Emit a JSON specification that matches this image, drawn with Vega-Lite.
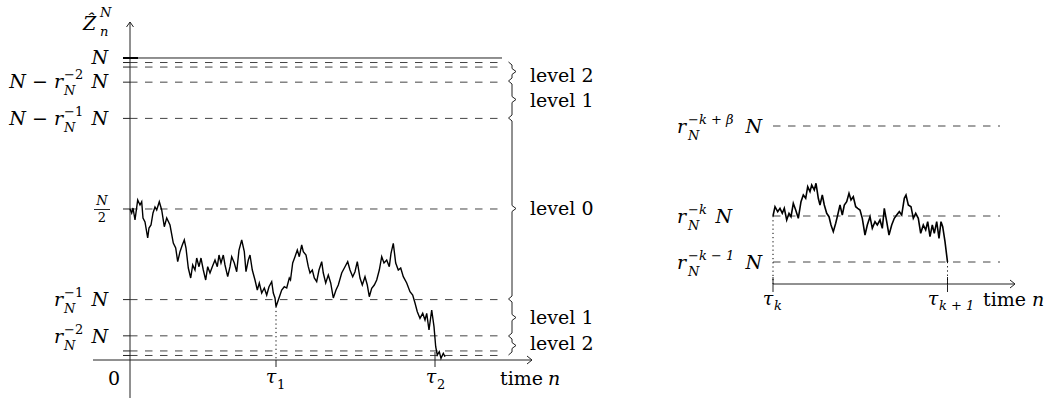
{
"$schema": "https://vega.github.io/schema/vega-lite/v6.json",
"width": 1052, "height": 401, "autosize": {"type": "none"}, "padding": 0,
"background": "white",
"config": {"view": {"stroke": null}},
"datasets": {
"lDash": [{"t":0,"tt":370,"v":1.5,"vv":1.5},{"t":0,"tt":370,"v":3,"vv":3},{"t":0,"tt":370,"v":8,"vv":8},{"t":0,"tt":370,"v":20,"vv":20},{"t":0,"tt":370,"v":50,"vv":50},{"t":0,"tt":370,"v":80,"vv":80},{"t":0,"tt":370,"v":92,"vv":92},{"t":0,"tt":370,"v":97,"vv":97},{"t":0,"tt":370,"v":98.5,"vv":98.5}],
"lSolid": [{"t":0,"tt":0,"v":-12.58,"vv":111.92},{"t":-37,"tt":402,"v":0,"vv":0},{"t":0,"tt":372,"v":100,"vv":100},
{"t":-7,"tt":0,"v":1.5,"vv":1.5},{"t":-7,"tt":0,"v":3,"vv":3},{"t":-7,"tt":0,"v":8,"vv":8},{"t":-7,"tt":0,"v":20,"vv":20},{"t":-7,"tt":0,"v":50,"vv":50},{"t":-7,"tt":0,"v":80,"vv":80},{"t":-7,"tt":0,"v":92,"vv":92},{"t":-7,"tt":0,"v":97,"vv":97},{"t":-7,"tt":0,"v":98.5,"vv":98.5},
{"t":146,"tt":146,"v":0,"vv":-2.32},{"t":305,"tt":305,"v":2.65,"vv":-2.32},{"t":-36,"tt":-20,"v":49.83,"vv":49.83}],
"lThick": [{"t":-7,"tt":8,"v":100,"vv":100}],
"lDot": [{"t":146,"tt":146,"v":17.65,"vv":0}],
"lLines": [{"id":"ya","i":0,"t":-3.5,"v":110.26},{"id":"ya","i":1,"t":0,"v":111.92},{"id":"ya","i":2,"t":3.5,"v":110.26},
{"id":"xa","i":0,"t":397,"v":1.32},{"id":"xa","i":1,"t":402,"v":0},{"id":"xa","i":2,"t":397,"v":-1.32},
{"id":"br","i":0,"t":378.5,"v":98.68},{"id":"br","i":1,"t":382,"v":97.68},{"id":"br","i":2,"t":382,"v":96.52},{"id":"br","i":3,"t":386,"v":95.53},{"id":"br","i":4,"t":382,"v":94.54},{"id":"br","i":5,"t":382,"v":93.38},{"id":"br","i":6,"t":378.5,"v":92.38},
{"id":"br","i":7,"t":382,"v":91.39},{"id":"br","i":8,"t":382,"v":87.25},{"id":"br","i":9,"t":386,"v":86.26},{"id":"br","i":10,"t":382,"v":85.26},{"id":"br","i":11,"t":382,"v":81.13},{"id":"br","i":12,"t":378.5,"v":80.13},
{"id":"br","i":13,"t":382,"v":79.14},{"id":"br","i":14,"t":382,"v":51.16},{"id":"br","i":15,"t":386,"v":50.17},{"id":"br","i":16,"t":382,"v":49.17},{"id":"br","i":17,"t":382,"v":21.19},{"id":"br","i":18,"t":378.5,"v":20.2},
{"id":"br","i":19,"t":382,"v":19.21},{"id":"br","i":20,"t":382,"v":15.07},{"id":"br","i":21,"t":386,"v":14.07},{"id":"br","i":22,"t":382,"v":13.08},{"id":"br","i":23,"t":382,"v":8.94},{"id":"br","i":24,"t":378.5,"v":7.95},
{"id":"br","i":25,"t":382,"v":6.95},{"id":"br","i":26,"t":382,"v":5.79},{"id":"br","i":27,"t":386,"v":4.8},{"id":"br","i":28,"t":382,"v":3.81},{"id":"br","i":29,"t":382,"v":2.65},{"id":"br","i":30,"t":378.5,"v":1.66}],
"lPath": [{"t":0,"v":50},{"t":1.7,"v":48.68},{"t":3,"v":50.33},{"t":5,"v":46.36},{"t":7.7,"v":52.98},{"t":10,"v":51.32},{"t":11.7,"v":52.42},{"t":13,"v":47.02},{"t":15,"v":45.7},{"t":17.7,"v":40.4},{"t":19,"v":43.71},{"t":21,"v":44.7},{"t":23,"v":48.68},{"t":25,"v":50.66},{"t":26.7,"v":49.67},{"t":29.3,"v":52.42},{"t":31.7,"v":49.67},{"t":34.3,"v":44.14},{"t":36.7,"v":47.02},{"t":40,"v":44.7},{"t":43.3,"v":38.74},{"t":45.7,"v":37.09},{"t":47.7,"v":32.55},{"t":50,"v":35.86},{"t":52.3,"v":38.08},{"t":54.3,"v":39.74},{"t":56,"v":37.09},{"t":58.3,"v":30.46},{"t":60.7,"v":27.15},{"t":62.7,"v":31.46},{"t":65,"v":29.8},{"t":66.7,"v":33.77},{"t":69,"v":30.89},{"t":71,"v":33.77},{"t":73.3,"v":29.8},{"t":75.7,"v":26.49},{"t":77.7,"v":30.89},{"t":80,"v":28.81},{"t":82.3,"v":30.89},{"t":85,"v":33.11},{"t":87.3,"v":30.89},{"t":89,"v":34.77},{"t":91,"v":32.12},{"t":93.3,"v":34.77},{"t":95,"v":31.46},{"t":97.7,"v":27.58},{"t":100,"v":30.89},{"t":101.7,"v":34.21},{"t":104.3,"v":32.12},{"t":106.7,"v":29.24},{"t":109,"v":36.42},{"t":111.7,"v":39.74},{"t":114.3,"v":35.86},{"t":116,"v":29.24},{"t":118.3,"v":33.11},{"t":120,"v":34.77},{"t":122.3,"v":29.8},{"t":125,"v":26.49},{"t":127.3,"v":23.18},{"t":129.3,"v":25.5},{"t":131.7,"v":22.19},{"t":134.3,"v":23.84},{"t":136.7,"v":21.52},{"t":139,"v":24.27},{"t":141.7,"v":25.93},{"t":143.3,"v":22.19},{"t":145,"v":20.53},{"t":146,"v":17.65},{"t":149,"v":20.53},{"t":151.7,"v":23.18},{"t":154.3,"v":24.27},{"t":156.7,"v":23.84},{"t":159.3,"v":27.15},{"t":160.5,"v":26.49},{"t":162.7,"v":32.12},{"t":165,"v":34.21},{"t":167.3,"v":36.42},{"t":169.3,"v":34.21},{"t":171.7,"v":38.08},{"t":173.3,"v":35.86},{"t":176,"v":34.77},{"t":178.3,"v":30.89},{"t":180,"v":28.81},{"t":182.3,"v":29.8},{"t":184.3,"v":27.15},{"t":186.7,"v":25.93},{"t":189,"v":29.8},{"t":191.7,"v":32.55},{"t":193.3,"v":28.81},{"t":195.7,"v":25.5},{"t":198.3,"v":28.15},{"t":200.7,"v":25.5},{"t":203.3,"v":20.53},{"t":206,"v":23.18},{"t":208.3,"v":24.83},{"t":211.7,"v":28.81},{"t":215,"v":30.89},{"t":217.7,"v":32.55},{"t":220,"v":29.8},{"t":222.7,"v":27.58},{"t":225,"v":29.24},{"t":227.3,"v":32.55},{"t":230,"v":27.15},{"t":232.3,"v":24.83},{"t":235,"v":27.58},{"t":237.3,"v":24.83},{"t":239.3,"v":20.96},{"t":241.7,"v":23.74},{"t":244.3,"v":24.83},{"t":246.7,"v":26.49},{"t":249.3,"v":29.8},{"t":251.7,"v":34.21},{"t":254,"v":32.12},{"t":256.7,"v":33.11},{"t":259.3,"v":30.89},{"t":261,"v":35.33},{"t":263.3,"v":38.64},{"t":265.7,"v":32.12},{"t":268.3,"v":29.8},{"t":270.7,"v":30.46},{"t":273.3,"v":27.58},{"t":276.7,"v":25.5},{"t":280,"v":22.62},{"t":282.7,"v":21.52},{"t":285,"v":18.87},{"t":287.3,"v":15.99},{"t":290,"v":13.81},{"t":292.7,"v":15.46},{"t":295,"v":13.25},{"t":296.7,"v":15.46},{"t":299,"v":9.93},{"t":301.7,"v":16.56},{"t":304,"v":11.03},{"t":305.7,"v":4.4},{"t":307.3,"v":1.66},{"t":309.3,"v":2.75},{"t":311,"v":0.56},{"t":313.3,"v":2.22},{"t":315,"v":1.09}],
"lIR": [{"t":-22,"v":100,"s":"N"},{"t":-67,"v":92.05,"s":"N − r"},{"t":-22,"v":92.05,"s":"N"},{"t":-67,"v":79.8,"s":"N − r"},{"t":-22,"v":79.8,"s":"N"},{"t":-67,"v":19.87,"s":"r"},{"t":-22,"v":19.87,"s":"N"},{"t":-67,"v":7.62,"s":"r"},{"t":-22,"v":7.62,"s":"N"}],
"lIL": [{"t":-47,"v":111.2,"s":"Ẑ"},{"t":418,"v":-6.29,"s":"n"}],
"lIC": [{"t":141,"v":-5.79,"s":"τ"},{"t":301,"v":-5.79,"s":"τ"}],
"lRL": [{"t":400,"v":94.04,"s":"level 2"},{"t":400,"v":85.76,"s":"level 1"},{"t":400,"v":50,"s":"level 0"},{"t":400,"v":13.91,"s":"level 1"},{"t":400,"v":5.3,"s":"level 2"},{"t":370,"v":-6.29,"s":"time"}],
"lRC": [{"t":-16,"v":-6.29,"s":"0"}],
"lSIL": [{"t":-66,"v":89.07,"s":"N"},{"t":-66,"v":76.82,"s":"N"},{"t":-66,"v":16.89,"s":"N"},{"t":-66,"v":4.64,"s":"N"},{"t":-30,"v":114.9,"s":"N"},{"t":-30,"v":108.6,"s":"n"}],
"lSRL": [{"t":-66,"v":94.37,"s":"−2"},{"t":-66,"v":82.12,"s":"−1"},{"t":-66,"v":22.19,"s":"−1"},{"t":-66,"v":9.93,"s":"−2"},{"t":147,"v":-8.28,"s":"1"},{"t":307,"v":-8.28,"s":"2"}],
"lSIC": [{"t":-28,"v":52.65,"s":"N"}],
"lSRC": [{"t":-28,"v":47.02,"s":"2"}],
"rDash": [{"t":0,"tt":227,"v":88,"vv":88},{"t":0,"tt":227,"v":43,"vv":43},{"t":0,"tt":227,"v":20,"vv":20}],
"rSolid": [{"t":0,"tt":242,"v":9,"vv":9},{"t":0,"tt":0,"v":12.5,"vv":5},{"t":174.5,"tt":174.5,"v":12.5,"vv":5}],
"rDot": [{"t":0,"tt":0,"v":43,"vv":9},{"t":174.5,"tt":174.5,"v":20,"vv":9}],
"rLines": [{"id":"xa","i":0,"t":237,"v":11},{"id":"xa","i":1,"t":242,"v":9},{"id":"xa","i":2,"t":237,"v":7}],
"rPath": [{"t":0,"v":43},{"t":2,"v":47.65},{"t":4.7,"v":45.15},{"t":7,"v":46.85},{"t":9.3,"v":44.35},{"t":11.3,"v":46.85},{"t":13.7,"v":41},{"t":16,"v":44.35},{"t":18,"v":42.65},{"t":20.3,"v":49.35},{"t":22.7,"v":46},{"t":25.3,"v":41.85},{"t":28,"v":50.15},{"t":30.3,"v":53.5},{"t":32.7,"v":51.85},{"t":34.7,"v":57.65},{"t":37,"v":55.15},{"t":38.7,"v":58.5},{"t":41.3,"v":56},{"t":43,"v":59.35},{"t":45.3,"v":51.85},{"t":47,"v":48.5},{"t":49.3,"v":53.5},{"t":51.3,"v":48.5},{"t":53.7,"v":44.35},{"t":56,"v":42.65},{"t":58,"v":38.5},{"t":60.3,"v":35.15},{"t":62.7,"v":39.35},{"t":64.7,"v":43.5},{"t":67,"v":48.5},{"t":69.3,"v":43.5},{"t":71.3,"v":48.5},{"t":73.7,"v":50.15},{"t":76,"v":54.35},{"t":78,"v":51},{"t":80.3,"v":52.65},{"t":82.7,"v":47.65},{"t":84.7,"v":46.85},{"t":87,"v":46},{"t":89.3,"v":41.85},{"t":92,"v":33.5},{"t":94.3,"v":38.5},{"t":97,"v":42.65},{"t":99.3,"v":36.85},{"t":102,"v":40.15},{"t":104.3,"v":38.5},{"t":107,"v":41},{"t":109.3,"v":36.85},{"t":111.3,"v":46.85},{"t":113.7,"v":40.15},{"t":116,"v":33.5},{"t":118.7,"v":38.5},{"t":121.3,"v":41.85},{"t":123.7,"v":43.5},{"t":126.3,"v":45.15},{"t":128.7,"v":43.5},{"t":131.3,"v":51.85},{"t":133,"v":53.5},{"t":135.3,"v":48.5},{"t":138,"v":47.65},{"t":140.3,"v":41.85},{"t":142.7,"v":44.35},{"t":145.3,"v":41.85},{"t":147.7,"v":34.35},{"t":150.3,"v":38.5},{"t":152.7,"v":36},{"t":154.7,"v":40.15},{"t":157,"v":32.65},{"t":159.3,"v":38.5},{"t":161.3,"v":34.35},{"t":163.7,"v":40.15},{"t":166,"v":31.85},{"t":168,"v":40.15},{"t":169.7,"v":37.65},{"t":172,"v":30.15},{"t":174.5,"v":20}],
"rIR": [{"t":-87,"v":87.5,"s":"r"},{"t":-87,"v":42.5,"s":"r"},{"t":-87,"v":19.5,"s":"r"},{"t":-11,"v":87.5,"s":"N"},{"t":-41,"v":42.5,"s":"N"},{"t":-11,"v":19.5,"s":"N"}],
"rIL": [{"t":259,"v":1,"s":"n"}],
"rIC": [{"t":-5,"v":1.75,"s":"τ"},{"t":160,"v":1.75,"s":"τ"}],
"rRL": [{"t":210,"v":1,"s":"time"}],
"rSIL": [{"t":-85,"v":91,"s":"−k + β"},{"t":-85,"v":83,"s":"N"},{"t":-85,"v":46,"s":"−k"},{"t":-85,"v":38,"s":"N"},{"t":-85,"v":23,"s":"−k − 1"},{"t":-85,"v":15,"s":"N"},{"t":1,"v":-2,"s":"k"},{"t":166,"v":-2,"s":"k + 1"}]
},
"resolve": {"scale": {"x": "independent", "y": "independent"}},
"layer": [
{
"encoding": {
"x": {"field": "t", "type": "quantitative", "scale": {"domain": [-130, 922], "nice": false, "zero": false}, "axis": null},
"y": {"field": "v", "type": "quantitative", "scale": {"domain": [-13.576, 119.205], "nice": false, "zero": false}, "axis": null}
},
"layer": [
{"data": {"name": "lDash"}, "mark": {"type": "rule", "color": "#444", "strokeWidth": 1, "strokeDash": [7.5, 7.5]}, "encoding": {"x2": {"field": "tt"}, "y2": {"field": "vv"}}},
{"data": {"name": "lSolid"}, "mark": {"type": "rule", "color": "#222", "strokeWidth": 1}, "encoding": {"x2": {"field": "tt"}, "y2": {"field": "vv"}}},
{"data": {"name": "lThick"}, "mark": {"type": "rule", "color": "black", "strokeWidth": 2}, "encoding": {"x2": {"field": "tt"}, "y2": {"field": "vv"}}},
{"data": {"name": "lDot"}, "mark": {"type": "rule", "color": "black", "strokeWidth": 1, "strokeDash": [1.2, 3]}, "encoding": {"x2": {"field": "tt"}, "y2": {"field": "vv"}}},
{"data": {"name": "lLines"}, "mark": {"type": "line", "color": "#222", "strokeWidth": 1}, "encoding": {"detail": {"field": "id"}, "order": {"field": "i", "type": "quantitative"}}},
{"data": {"name": "lPath"}, "mark": {"type": "line", "color": "black", "strokeWidth": 1.4}, "encoding": {}},
{"data": {"name": "lIR"}, "mark": {"type": "text", "font": "DejaVu Serif", "fontStyle": "italic", "fontSize": 19, "align": "right", "baseline": "middle", "color": "black"}, "encoding": {"text": {"field": "s"}}},
{"data": {"name": "lIL"}, "mark": {"type": "text", "font": "DejaVu Serif", "fontStyle": "italic", "fontSize": 19, "align": "left", "baseline": "middle", "color": "black"}, "encoding": {"text": {"field": "s"}}},
{"data": {"name": "lIC"}, "mark": {"type": "text", "font": "DejaVu Serif", "fontStyle": "italic", "fontSize": 19, "align": "center", "baseline": "middle", "color": "black"}, "encoding": {"text": {"field": "s"}}},
{"data": {"name": "lRL"}, "mark": {"type": "text", "font": "DejaVu Serif", "fontSize": 19, "align": "left", "baseline": "middle", "color": "black"}, "encoding": {"text": {"field": "s"}}},
{"data": {"name": "lRC"}, "mark": {"type": "text", "font": "DejaVu Serif", "fontSize": 19, "align": "center", "baseline": "middle", "color": "black"}, "encoding": {"text": {"field": "s"}}},
{"data": {"name": "lSIL"}, "mark": {"type": "text", "font": "DejaVu Serif", "fontStyle": "italic", "fontSize": 13, "align": "left", "baseline": "middle", "color": "black"}, "encoding": {"text": {"field": "s"}}},
{"data": {"name": "lSRL"}, "mark": {"type": "text", "font": "DejaVu Serif", "fontSize": 13, "align": "left", "baseline": "middle", "color": "black"}, "encoding": {"text": {"field": "s"}}},
{"data": {"name": "lSIC"}, "mark": {"type": "text", "font": "DejaVu Serif", "fontStyle": "italic", "fontSize": 13, "align": "center", "baseline": "middle", "color": "black"}, "encoding": {"text": {"field": "s"}}},
{"data": {"name": "lSRC"}, "mark": {"type": "text", "font": "DejaVu Serif", "fontSize": 13, "align": "center", "baseline": "middle", "color": "black"}, "encoding": {"text": {"field": "s"}}}
]
},
{
"encoding": {
"x": {"field": "t", "type": "quantitative", "scale": {"domain": [-773, 279], "nice": false, "zero": false}, "axis": null},
"y": {"field": "v", "type": "quantitative", "scale": {"domain": [-49.5, 151], "nice": false, "zero": false}, "axis": null}
},
"layer": [
{"data": {"name": "rDash"}, "mark": {"type": "rule", "color": "#444", "strokeWidth": 1, "strokeDash": [7.5, 7.5]}, "encoding": {"x2": {"field": "tt"}, "y2": {"field": "vv"}}},
{"data": {"name": "rSolid"}, "mark": {"type": "rule", "color": "#222", "strokeWidth": 1}, "encoding": {"x2": {"field": "tt"}, "y2": {"field": "vv"}}},
{"data": {"name": "rDot"}, "mark": {"type": "rule", "color": "black", "strokeWidth": 1, "strokeDash": [1.2, 3]}, "encoding": {"x2": {"field": "tt"}, "y2": {"field": "vv"}}},
{"data": {"name": "rLines"}, "mark": {"type": "line", "color": "#222", "strokeWidth": 1}, "encoding": {"detail": {"field": "id"}, "order": {"field": "i", "type": "quantitative"}}},
{"data": {"name": "rPath"}, "mark": {"type": "line", "color": "black", "strokeWidth": 1.6}, "encoding": {}},
{"data": {"name": "rIR"}, "mark": {"type": "text", "font": "DejaVu Serif", "fontStyle": "italic", "fontSize": 19, "align": "right", "baseline": "middle", "color": "black"}, "encoding": {"text": {"field": "s"}}},
{"data": {"name": "rIL"}, "mark": {"type": "text", "font": "DejaVu Serif", "fontStyle": "italic", "fontSize": 19, "align": "left", "baseline": "middle", "color": "black"}, "encoding": {"text": {"field": "s"}}},
{"data": {"name": "rIC"}, "mark": {"type": "text", "font": "DejaVu Serif", "fontStyle": "italic", "fontSize": 19, "align": "center", "baseline": "middle", "color": "black"}, "encoding": {"text": {"field": "s"}}},
{"data": {"name": "rRL"}, "mark": {"type": "text", "font": "DejaVu Serif", "fontSize": 19, "align": "left", "baseline": "middle", "color": "black"}, "encoding": {"text": {"field": "s"}}},
{"data": {"name": "rSIL"}, "mark": {"type": "text", "font": "DejaVu Serif", "fontStyle": "italic", "fontSize": 13, "align": "left", "baseline": "middle", "color": "black"}, "encoding": {"text": {"field": "s"}}}
]
}
]
}
